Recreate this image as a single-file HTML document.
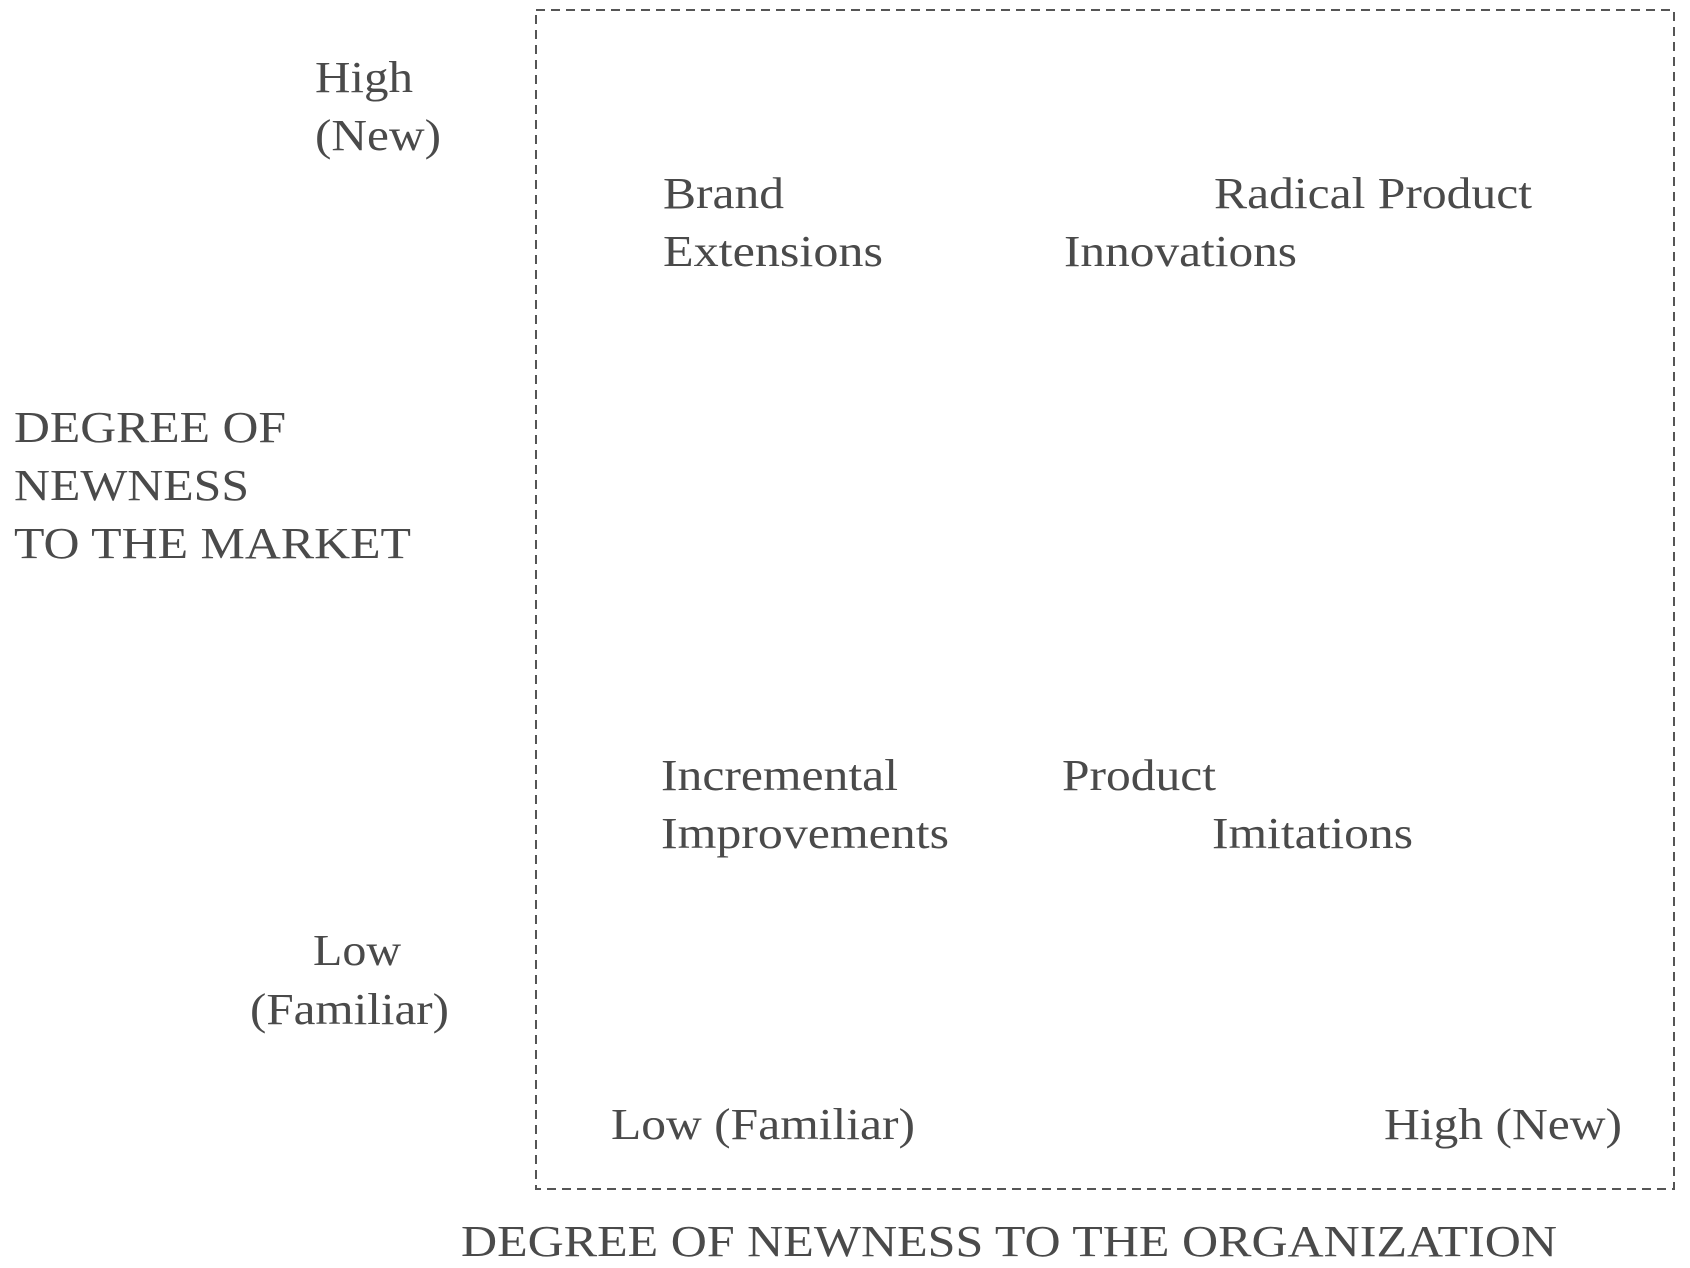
<!DOCTYPE html>
<html><head><meta charset="utf-8"><style>
html,body{margin:0;padding:0;background:#fff;}
svg{display:block;}
text{font-family:"Liberation Serif",serif;font-size:44px;fill:#4a4a4a;}
</style></head><body>
<svg width="1690" height="1268" viewBox="0 0 1690 1268" xmlns="http://www.w3.org/2000/svg">
<rect x="536" y="10" width="1138" height="1179" fill="none" stroke="#555" stroke-width="2" stroke-dasharray="9,6"/>
<text x="315" y="92" textLength="98" lengthAdjust="spacingAndGlyphs">High</text>
<text x="315" y="150" textLength="126" lengthAdjust="spacingAndGlyphs">(New)</text>
<text x="663" y="208" textLength="121" lengthAdjust="spacingAndGlyphs">Brand</text>
<text x="663" y="266" textLength="220" lengthAdjust="spacingAndGlyphs">Extensions</text>
<text x="1214" y="208" textLength="318" lengthAdjust="spacingAndGlyphs">Radical Product</text>
<text x="1064" y="266" textLength="233" lengthAdjust="spacingAndGlyphs">Innovations</text>
<text x="14" y="442" textLength="272" lengthAdjust="spacingAndGlyphs">DEGREE OF</text>
<text x="14" y="500" textLength="235" lengthAdjust="spacingAndGlyphs">NEWNESS</text>
<text x="14" y="558" textLength="397" lengthAdjust="spacingAndGlyphs">TO THE MARKET</text>
<text x="661" y="790" textLength="237" lengthAdjust="spacingAndGlyphs">Incremental</text>
<text x="661" y="848" textLength="288" lengthAdjust="spacingAndGlyphs">Improvements</text>
<text x="1062" y="790" textLength="154" lengthAdjust="spacingAndGlyphs">Product</text>
<text x="1212" y="848" textLength="201" lengthAdjust="spacingAndGlyphs">Imitations</text>
<text x="313" y="965" textLength="88" lengthAdjust="spacingAndGlyphs">Low</text>
<text x="250" y="1024" textLength="199" lengthAdjust="spacingAndGlyphs">(Familiar)</text>
<text x="611" y="1139" textLength="304" lengthAdjust="spacingAndGlyphs">Low (Familiar)</text>
<text x="1384" y="1139" textLength="238" lengthAdjust="spacingAndGlyphs">High (New)</text>
<text x="461" y="1256" textLength="1096" lengthAdjust="spacingAndGlyphs">DEGREE OF NEWNESS TO THE ORGANIZATION</text>
</svg>
</body></html>
